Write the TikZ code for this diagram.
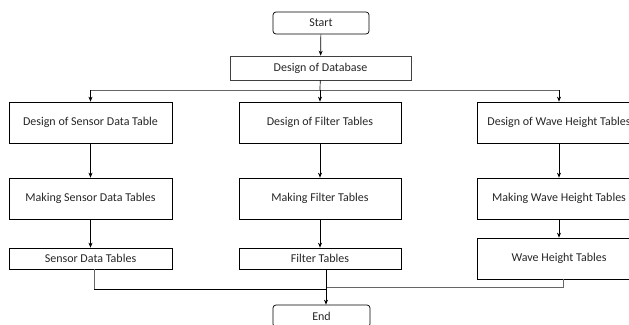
\documentclass[tikz,border=0pt]{standalone}
\usepackage{fontspec}
\setmainfont{Carlito}
\usetikzlibrary{arrows.meta,calc}
\begin{document}
\begin{tikzpicture}[x=1pt,y=-1pt,
  box/.style={draw=black, line width=0.7pt, inner sep=0pt, font=\fontsize{12}{14}\selectfont, text=black!85},
  term/.style={box, rounded corners=3pt},
  link/.style={line width=0.7pt, draw=black},
  flow/.style={link, -{Stealth[length=5pt,width=4pt]}},
  soft/.style={line width=0.7pt, draw=black!60}]
\useasboundingbox (0,0) rectangle (629,324);
\clip (0,0) rectangle (629,324);

% terminals and main steps
\node[term, minimum width=96pt, minimum height=22pt] (start) at (321,23) {Start};
\node[box, draw=black!75, minimum width=181pt, minimum height=24pt] (db) at (320.5,68) {Design of Database};

\node[box, minimum width=163pt, minimum height=41pt] (d1) at (90.5,122.5) {Design of Sensor Data Table};
\node[box, minimum width=162pt, minimum height=41pt] (d2) at (320,122.5) {Design of Filter Tables};
\node[box, minimum width=164pt, minimum height=41pt] (d3) at (559,122.5) {Design of Wave Height Tables};

\node[box, minimum width=163pt, minimum height=41pt] (m1) at (90.5,198.5) {Making Sensor Data Tables};
\node[box, minimum width=162pt, minimum height=41pt] (m2) at (320,198.5) {Making Filter Tables};
\node[box, minimum width=164pt, minimum height=41pt] (m3) at (559,198.5) {Making Wave Height Tables};

\node[box, minimum width=163pt, minimum height=21pt] (t1) at (90.5,258.5) {Sensor Data Tables};
\node[box, minimum width=162pt, minimum height=21pt] (t2) at (320,258.5) {Filter Tables};
\node[box, minimum width=164pt, minimum height=41pt] (t3) at (559,258.5) {Wave Height Tables};

\node[term, minimum width=97pt, minimum height=22pt] (end) at (321.5,316) {End};

% branching below the database design
\coordinate (split) at (320,90);
\draw[flow] (start) -- (db);
\draw[link] (db) -- (split);
\draw[soft] (split -| d1) -- (split -| d3);
\draw[flow] (split -| d1) -- (d1);
\draw[flow] (split) -- (d2);
\draw[flow] (split -| d3) -- (d3);

% columns
\draw[flow] (d1) -- (m1);
\draw[flow] (d2) -- (m2);
\draw[flow] (d3) -- (m3);
\draw[flow] (m1) -- (t1);
\draw[flow] (m2) -- (t2);
\draw[flow] (m3) -- (t3);

% merging into the end terminal
\coordinate (merge) at (326,289);
\coordinate (merge3) at (326,287.5);
\coordinate (out1) at (94,0);
\coordinate (out3) at (563,0);
\draw[soft] (t1.south -| out1) -- (merge -| out1);
\draw[link] (merge -| out1) -- (merge);
\draw[soft] (t3.south -| out3) -- (merge3 -| out3) -- (merge3);
\draw[flow] (t2.south -| merge) -- (end.north -| merge);
\end{tikzpicture}
\end{document}
